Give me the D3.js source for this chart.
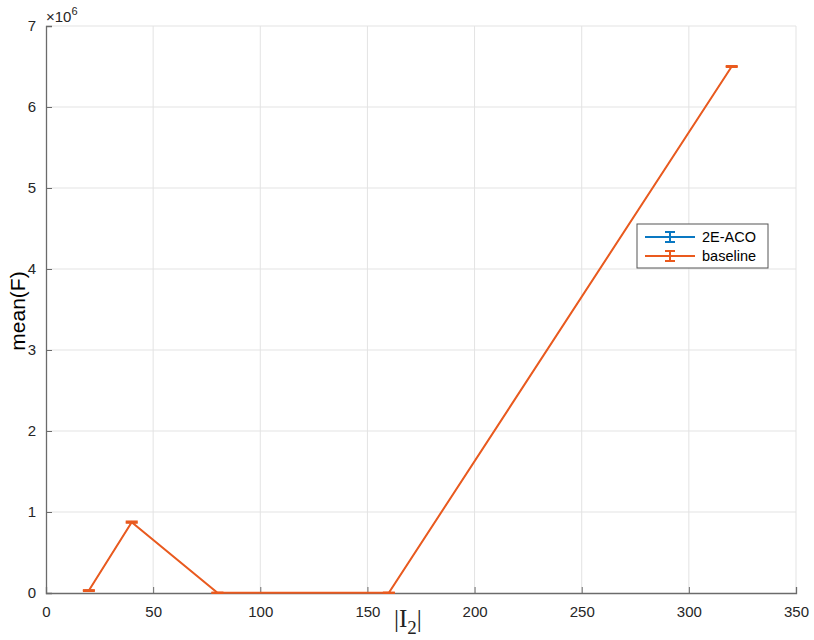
<!DOCTYPE html>
<html>
<head>
<meta charset="utf-8">
<script src="https://cdn.jsdelivr.net/npm/d3@7"></script>
<style>
  html, body { margin: 0; padding: 0; background: #ffffff; }
  svg { display: block; }
</style>
</head>
<body>
<svg id="chart" width="814" height="640"></svg>
<script>
// Problem size |I2| and mean objective value per method
const sizes = [20, 40, 80, 160, 320];
const acoMean = [30000, 875000, 3000, 3000, 6500000];
const acoErr = [6000, 8000, 2000, 2000, 6000];
const baselineMean = [30000, 875000, 3000, 3000, 6500000];
const baselineErr = [6000, 8000, 2000, 2000, 6000];
const xTicks = [0, 50, 100, 150, 200, 250, 300, 350];
const yTicks = [0, 1, 2, 3, 4, 5, 6, 7];
const seriesNames = ["2E-ACO", "baseline"];
const seriesColors = ["#0A78C2", "#EA5A1E"];

const svg = d3.select("#chart");
const margin = { left: 46, right: 796, top: 26, bottom: 593 };

const x = d3.scaleLinear().domain([0, 350]).range([margin.left, margin.right]);
const y = d3.scaleLinear().domain([0, 7e6]).range([margin.bottom, margin.top]);

const font = "Helvetica, Arial, 'Liberation Sans', sans-serif";

// grid lines
const grid = svg.append("g");
grid.selectAll("line.gx").data(xTicks.slice(1)).join("line")
  .attr("x1", d => x(d)).attr("x2", d => x(d))
  .attr("y1", margin.top).attr("y2", margin.bottom)
  .attr("stroke", "#e3e3e3").attr("stroke-width", 1);
grid.selectAll("line.gy").data(yTicks.slice(1)).join("line")
  .attr("x1", margin.left).attr("x2", margin.right)
  .attr("y1", d => y(d * 1e6)).attr("y2", d => y(d * 1e6))
  .attr("stroke", "#e3e3e3").attr("stroke-width", 1);

// axes with inward ticks
const xAxis = d3.axisBottom(x).tickValues(xTicks).tickSize(-6).tickPadding(10).tickFormat(d3.format("d"));
const yAxis = d3.axisLeft(y).tickValues(yTicks.map(v => v * 1e6)).tickSize(-6).tickPadding(10).tickFormat(d => d / 1e6);

const gx = svg.append("g").attr("transform", `translate(0,${margin.bottom})`).call(xAxis);
const gy = svg.append("g").attr("transform", `translate(${margin.left},0)`).call(yAxis);
[gx, gy].forEach(g => {
  g.select(".domain").attr("stroke", "#6b6b6b").attr("stroke-width", 1.3);
  g.selectAll(".tick line").attr("stroke", "#6b6b6b").attr("stroke-width", 1);
  g.selectAll(".tick text").attr("fill", "#262626").style("font-family", font).style("font-size", "15px");
});
gx.selectAll(".tick text").attr("dy", "0.9em");

// exponent label
const expo = svg.append("text").attr("x", 46).attr("y", 22)
  .style("font-family", font).style("font-size", "15px").attr("fill", "#262626");
expo.append("tspan").text("×10");
expo.append("tspan").attr("dy", -7).style("font-size", "11px").text("6");

// axis titles
svg.append("text")
  .attr("transform", "translate(25,311) rotate(-90)")
  .attr("text-anchor", "middle")
  .style("font-family", font).style("font-size", "21px").attr("fill", "#000")
  .text("mean(F)");

const xl = svg.append("text").attr("x", 394).attr("y", 627)
  .style("font-family", "'Liberation Serif', 'Times New Roman', serif").style("font-size", "25px").attr("fill", "#222");
xl.append("tspan").text("|I");
xl.append("tspan").attr("dy", 7).style("font-size", "19px").text("2");
xl.append("tspan").attr("dy", -7).text("|");

// series with error bars (first series is drawn thinner so the second covers it where they coincide)
const capHalf = 6;
const series = [
  { name: seriesNames[0], color: seriesColors[0], mean: acoMean, err: acoErr, w: 1, cap: 4 },
  { name: seriesNames[1], color: seriesColors[1], mean: baselineMean, err: baselineErr, w: 2, cap: capHalf }
];
const line = d3.line().x(d => x(d.x)).y(d => y(d.y));

series.forEach(s => {
  const pts = sizes.map((v, i) => ({ x: v, y: s.mean[i], e: s.err[i] }));
  const g = svg.append("g");
  g.append("path").datum(pts).attr("d", line)
    .attr("fill", "none").attr("stroke", s.color).attr("stroke-width", s.w);
  const eb = g.selectAll("g.eb").data(pts).join("g");
  eb.append("line")
    .attr("x1", d => x(d.x)).attr("x2", d => x(d.x))
    .attr("y1", d => y(d.y - d.e)).attr("y2", d => y(d.y + d.e))
    .attr("stroke", s.color).attr("stroke-width", s.w);
  [-1, 1].forEach(sign => {
    eb.append("line")
      .attr("x1", d => x(d.x) - s.cap).attr("x2", d => x(d.x) + s.cap)
      .attr("y1", d => y(d.y + sign * d.e)).attr("y2", d => y(d.y + sign * d.e))
      .attr("stroke", s.color).attr("stroke-width", s.w);
  });
});

// legend
const lg = svg.append("g").attr("transform", "translate(637,224)");
lg.append("rect").attr("width", 131).attr("height", 44)
  .attr("fill", "#fff").attr("stroke", "#555").attr("stroke-width", 1);
series.forEach((s, i) => {
  const cy = 13 + i * 19;
  lg.append("line").attr("x1", 8).attr("x2", 58).attr("y1", cy).attr("y2", cy)
    .attr("stroke", s.color).attr("stroke-width", 2);
  lg.append("line").attr("x1", 33).attr("x2", 33).attr("y1", cy - 5).attr("y2", cy + 5)
    .attr("stroke", s.color).attr("stroke-width", 2);
  [-5, 5].forEach(o => lg.append("line").attr("x1", 28).attr("x2", 38)
    .attr("y1", cy + o).attr("y2", cy + o).attr("stroke", s.color).attr("stroke-width", 2));
  lg.append("text").attr("x", 65).attr("y", cy).attr("dy", "0.35em")
    .style("font-family", font).style("font-size", "14.5px").attr("fill", "#000")
    .text(s.name);
});
</script>
</body>
</html>
